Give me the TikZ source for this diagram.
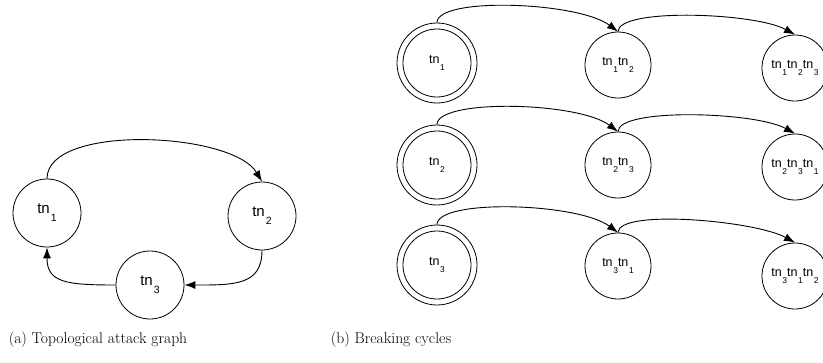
\documentclass[tikz,border=0pt]{standalone}
\usepackage{fontspec}
\newfontfamily\arialf{Liberation Sans}
\usetikzlibrary{arrows.meta}
\newcommand\tnl[1]{tn\kern1pt\raisebox{-8pt}{\fontsize{10.5}{12}\selectfont #1}}
\newcommand\tnr[1]{tn\kern0.6pt\raisebox{-6.5pt}{\fontsize{8.5}{10}\selectfont #1}}
\begin{document}
\begin{tikzpicture}[x=1pt,y=-1pt,
  lnode/.style={circle,draw,line width=0.8pt,minimum size=68pt,inner sep=0pt,font=\arialf\fontsize{15}{18}\selectfont},
  rnode/.style={circle,draw,line width=0.8pt,minimum size=66pt,inner sep=0pt,font=\arialf\fontsize{12.5}{15}\selectfont},
  dnode/.style={rnode,minimum size=80pt,path picture={\draw[line width=0.8pt] (path picture bounding box.center) circle (34pt);}},
  arr/.style={line width=0.9pt,-{Latex[length=11pt,width=8pt]}},
  captext/.style={font=\fontsize{15.6}{18}\selectfont,inner sep=0pt}]
\useasboundingbox (0,0) rectangle (823,362);
% left graph
\node[lnode] (t1) at (47,213) {\tnl{1}};
\node[lnode] (t2) at (262,216) {\tnl{2}};
\node[lnode] (t3) at (150,285) {\tnl{3}};
\draw[arr] (t1.north) .. controls +(0,-55) and +(-30,-50) .. (t2.north);
\draw[arr] (t2.south) .. controls +(0,35) and +(50,0) .. (t3.east);
\draw[arr] (t3.west) .. controls +(-50,0) and +(0,35) .. (t1.south);
% right graph
\node[dnode] (d1) at (437,63) {\tnr{1}};
\node[rnode] (n12) at (618,65) {\tnr{1}\tnr{2}};
\node[rnode] (n123) at (795,68) {\tnr{1}\tnr{2}\tnr{3}};
\node[dnode] (d2) at (437,165) {\tnr{2}};
\node[rnode] (n23) at (618,165) {\tnr{2}\tnr{3}};
\node[rnode] (n231) at (795,167) {\tnr{2}\tnr{3}\tnr{1}};
\node[dnode] (d3) at (437,265) {\tnr{3}};
\node[rnode] (n31) at (618,266) {\tnr{3}\tnr{1}};
\node[rnode] (n312) at (795,276) {\tnr{3}\tnr{1}\tnr{2}};
\foreach \a/\b/\c in {d1/n12/n123,d2/n23/n231,d3/n31/n312}{
  \draw[arr] (\a.north) .. controls +(0,-26) and +(-40,-30) .. (\b.north);
  \draw[arr] (\b.north) .. controls +(0,-24) and +(-40,-22) .. (\c.north);
}
% captions
\node[captext] (ca) at (98,340) {(a) Topological attack graph};
\node[captext] (cb) at (391,340) {(b) Breaking cycles};
\end{tikzpicture}
\end{document}
